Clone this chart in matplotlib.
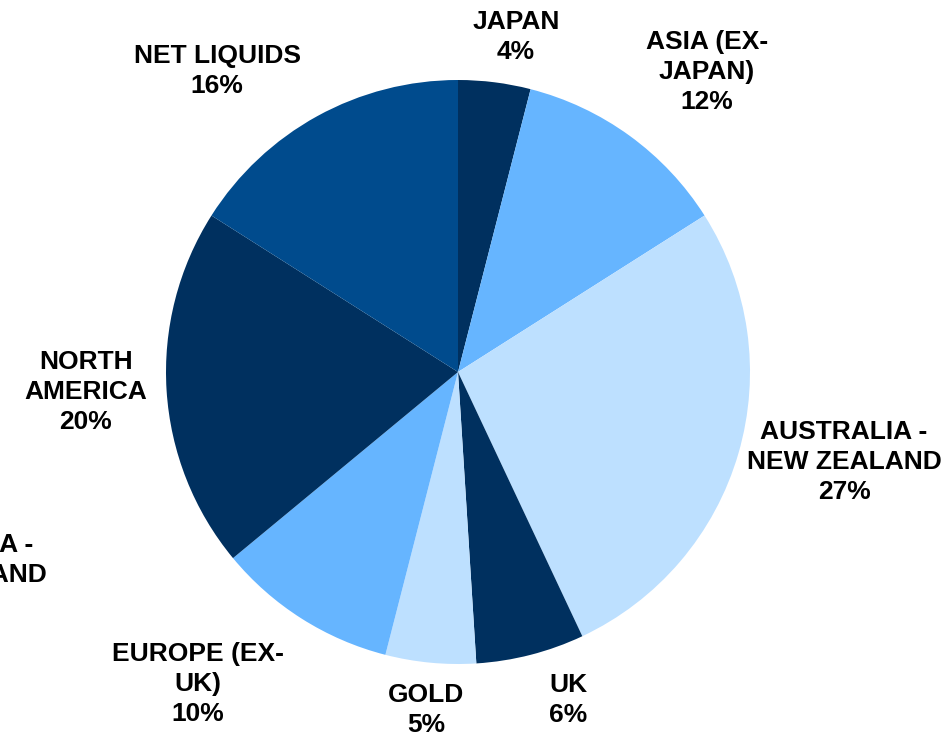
import numpy as np
import matplotlib.pyplot as plt

plt.rcParams["font.family"] = ["Liberation Sans", "DejaVu Sans"]

# === Allocation data ===
regions = ["JAPAN", "ASIA (EX-\nJAPAN)", "AUSTRALIA -\nNEW ZEALAND", "UK", "GOLD",
           "EUROPE (EX-\nUK)", "NORTH\nAMERICA", "NET LIQUIDS"]
weights = [4, 12, 27, 6, 5, 10, 20, 16]

navy = "#00305f"
mid_blue = "#66b5ff"
pale_blue = "#bde0ff"
deep_blue = "#004b8d"
colors = [navy, mid_blue, pale_blue, navy, pale_blue, mid_blue, navy, deep_blue]

# label anchor points in pie units (radius = 1)
label_pos = [(0.199, 1.147), (0.853, 1.027), (1.322, -0.308), (0.377, -1.123),
             (-0.110, -1.158), (-0.890, -1.068), (-1.274, -0.068), (-0.825, 1.031)]

W, H = 945, 736
cx, cy, r = 458, 372, 292

fig = plt.figure(figsize=(W / 100, H / 100), dpi=100)
ax = fig.add_axes([(cx - r) / W, (H - cy - r) / H, 2 * r / W, 2 * r / H])

ax.pie(weights, colors=colors, startangle=90, counterclock=False, radius=1.0,
       wedgeprops=dict(linewidth=0))
ax.set_xlim(-1, 1)
ax.set_ylim(-1, 1)
ax.set_aspect("equal")
ax.axis("off")

label_style = dict(fontsize=19, fontweight="bold", linespacing=1.3, color="black",
                   multialignment="center")

for name, val, (x, y) in zip(regions, weights, label_pos):
    ax.text(x, y, f"{name}\n{val}%", ha="center", va="center", **label_style)

# leftover label sitting past the left edge
ax.text(-1.408, -0.644, "AUSTRALIA -\nNEW ZEALAND", ha="right", va="center",
        **label_style)

fig.savefig("out.png", dpi=100)
